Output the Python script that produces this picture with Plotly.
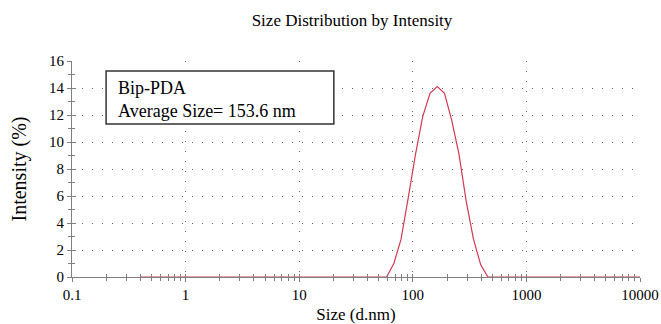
import plotly.graph_objects as go

# Data (Zetasizer size classes, nm)
sizes = [0.4, 58.77, 68.06, 78.82, 91.28, 105.7, 122.4, 141.8, 164.2, 190.1,
         220.2, 255.0, 295.3, 342.0, 396.1, 458.7, 10000]
intensity = [0, 0, 1.0, 2.8, 5.9, 9.1, 11.9, 13.6, 14.1, 13.6,
             11.6, 9.1, 5.6, 2.8, 0.9, 0, 0]

x_tickvals = [0.1, 1, 10, 100, 1000, 10000]
x_ticktext = ["0.1", "1", "10", "100", "1000", "10000"]
y_tickvals = [0, 2, 4, 6, 8, 10, 12, 14, 16]

sample_name = "Bip-PDA"
avg_size = "153.6"

FONT = "Times New Roman, Liberation Serif, serif"
AX = "#808080"
GRID = "#606060"

fig = go.Figure()
fig.add_trace(go.Scatter(x=sizes, y=intensity, mode="lines",
                         line=dict(color="#d03a52", width=1.2),
                         showlegend=False, hoverinfo="skip"))
# helper trace for overlay axes (inside half of crossing ticks)
fig.add_trace(go.Scatter(x=[sizes[0]], y=[0], xaxis="x2", yaxis="y2",
                         mode="markers", marker=dict(opacity=0),
                         showlegend=False, hoverinfo="skip"))

fig.update_layout(
    width=661, height=324,
    margin=dict(l=72, r=21, t=61, b=47, autoexpand=False),
    paper_bgcolor="white", plot_bgcolor="white",
    font=dict(family=FONT, size=15, color="black"),
    title=dict(text="Size Distribution by Intensity", x=352 / 661, xanchor="center",
               y=1 - 20 / 324, yanchor="middle",
               font=dict(family=FONT, size=17, color="black")),
    xaxis=dict(type="log", range=[-1, 4], tickvals=x_tickvals, ticktext=x_ticktext,
               automargin=False,
               showline=True, linecolor=AX, linewidth=1,
               ticks="outside", ticklen=4, tickcolor=AX,
               minor=dict(ticks="outside", ticklen=3, tickcolor=AX, dtick="D1", showgrid=False),
               showgrid=True, gridcolor=GRID, gridwidth=1, griddash="1px,9px",
               zeroline=False,
               tickfont=dict(family=FONT, size=15, color="black"),
               title=dict(text="Size (d.nm)", font=dict(family=FONT, size=17, color="black"),
                          standoff=7)),
    yaxis=dict(range=[0, 16], tickvals=y_tickvals,
               automargin=False,
               showline=True, linecolor=AX, linewidth=1,
               ticks="outside", ticklen=4, tickcolor=AX,
               minor=dict(ticks="outside", ticklen=3, tickcolor=AX, dtick=1, showgrid=False),
               showgrid=True, gridcolor=GRID, gridwidth=1, griddash="1px,9px",
               zeroline=False,
               tickfont=dict(family=FONT, size=15, color="black"),
               title=dict(text="Intensity (%)", font=dict(family=FONT, size=20, color="black"),
                          standoff=17)),
    xaxis2=dict(type="log", range=[-1, 4], overlaying="x", anchor="y",
                automargin=False,
                tickvals=x_tickvals, showticklabels=False,
                ticks="inside", ticklen=3, tickcolor=AX,
                minor=dict(ticks="inside", ticklen=3, tickcolor=AX, dtick="D1", showgrid=False),
                showgrid=False, zeroline=False, showline=False),
    yaxis2=dict(range=[0, 16], overlaying="y", anchor="x",
                automargin=False,
                tickvals=y_tickvals, showticklabels=False,
                ticks="inside", ticklen=4, tickcolor=AX,
                minor=dict(ticks="inside", ticklen=3, tickcolor=AX, dtick=1, showgrid=False),
                showgrid=False, zeroline=False, showline=False),
)

fig.add_shape(type="rect", xref="paper", yref="paper",
              x0=0.060, x1=0.461, y0=0.708, y1=0.954,
              line=dict(color="#333333", width=1.5), fillcolor="white", layer="above")
fig.add_annotation(xref="paper", yref="paper", x=0.078, y=0.824,
                   xanchor="left", yanchor="middle", align="left", showarrow=False,
                   text=f"{sample_name}<br>Average Size= {avg_size} nm",
                   font=dict(family=FONT, size=18, color="black"))

fig.write_html("out.html",
               config={"displayModeBar": False},
               post_script="document.body.style.margin='0px';"
                           "document.body.style.overflow='hidden';")
